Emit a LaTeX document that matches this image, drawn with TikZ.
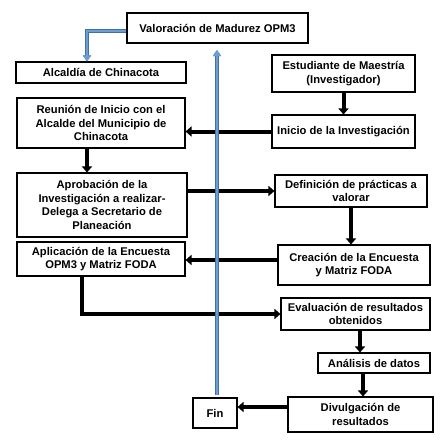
\documentclass[tikz,border=0pt]{standalone}
\usepackage{fontspec}
\setmainfont{Liberation Sans}
\usetikzlibrary{arrows.meta}
\definecolor{azulclaro}{HTML}{6A9FD6}
\definecolor{azuloscuro}{HTML}{41719C}
\tikzset{
  caja/.style={draw, line width=0.8pt, align=center, inner sep=1pt,
    font=\fontsize{8.4}{10.1}\selectfont\bfseries},
  flecha/.style={line width=3pt, -{Triangle[length=4.5pt,width=7.5pt]}},
  lineaazul/.style={azulclaro, line width=1.6pt, -{Triangle[length=4.5pt,width=6pt]},
    preaction={draw=azuloscuro, line width=3pt}}
}
\begin{document}
\begin{tikzpicture}[x=0.75pt, y=-0.75pt]
    \useasboundingbox (0,0) rectangle (445,446);
    \node[caja, minimum width=135.75pt, minimum height=22.5pt] (val) at (217.5,28) {Valoración de Madurez OPM3};
    \node[caja, minimum width=127.5pt, minimum height=15.75pt] (alc) at (101,72.5) {Alcaldía de Chinacota};
    \node[caja, minimum width=107.25pt, minimum height=27.75pt] (est) at (343.5,73.5) {Estudiante de Maestría\\(Investigador)};
    \node[caja, minimum width=126pt, minimum height=37.5pt] (reu) at (101,123) {Reunión de Inicio con el\\Alcalde del Municipio de\\Chinacota};
    \node[caja, minimum width=107.25pt, minimum height=24.75pt] (ini) at (343.5,131.5) {Inicio de la Investigación};
    \node[caja, minimum width=127.5pt, minimum height=48pt] (apr) at (102,205) {Aprobación de la\\Investigación a realizar-\\Delega a Secretario de\\Planeación};
    \node[caja, minimum width=114pt, minimum height=24pt] (def) at (351,191) {Definición de prácticas a\\valorar};
    \node[caja, minimum width=126pt, minimum height=25.5pt] (apl) at (101,259) {Aplicación de la Encuesta\\OPM3 y Matriz FODA};
    \node[caja, minimum width=114pt, minimum height=30pt] (cre) at (354,265) {Creación de la Encuesta\\y Matriz FODA};
    \node[caja, minimum width=111.75pt, minimum height=24pt] (eva) at (355.5,314) {Evaluación de resultados\\obtenidos};
    \node[caja, minimum width=84pt, minimum height=15pt] (ana) at (374,363) {Análisis de datos};
    \node[caja, minimum width=108.75pt, minimum height=26.25pt] (div) at (360.5,414.5) {Divulgación de\\resultados};
    \node[caja, minimum width=33pt, minimum height=22.5pt] (fin) at (215,413) {Fin};
    \coordinate (abajo) at (217,395);
    \coordinate (arriba) at (217,50);
    \draw[flecha] (est.south) -- (ini.north);
    \draw[flecha] (ini.west) -- (reu.east |- ini.west);
    \draw[flecha] (reu.south -| 87,0) -- (apr.north -| 87,0);
    \draw[flecha] (apr.east |- def.west) -- (def.west);
    \draw[flecha] (def.south) -- (def.south |- cre.north);
    \draw[flecha] (cre.west |- 0,260) -- (apl.east |- 0,260);
    \draw[flecha] (apl.south -| 82,0) |- (eva.west);
    \draw[flecha] (eva.south -| 360,0) -- (ana.north -| 360,0);
    \draw[flecha] (ana.south -| 363,0) -- (div.north -| 363,0);
    \draw[flecha] (div.west |- 0,407) -- (fin.east |- 0,407);
    \draw[lineaazul] (abajo) -- (arriba);
    \draw[lineaazul] (val.west |- 0,31) -| (alc.north -| 87,0);
\end{tikzpicture}
\end{document}
